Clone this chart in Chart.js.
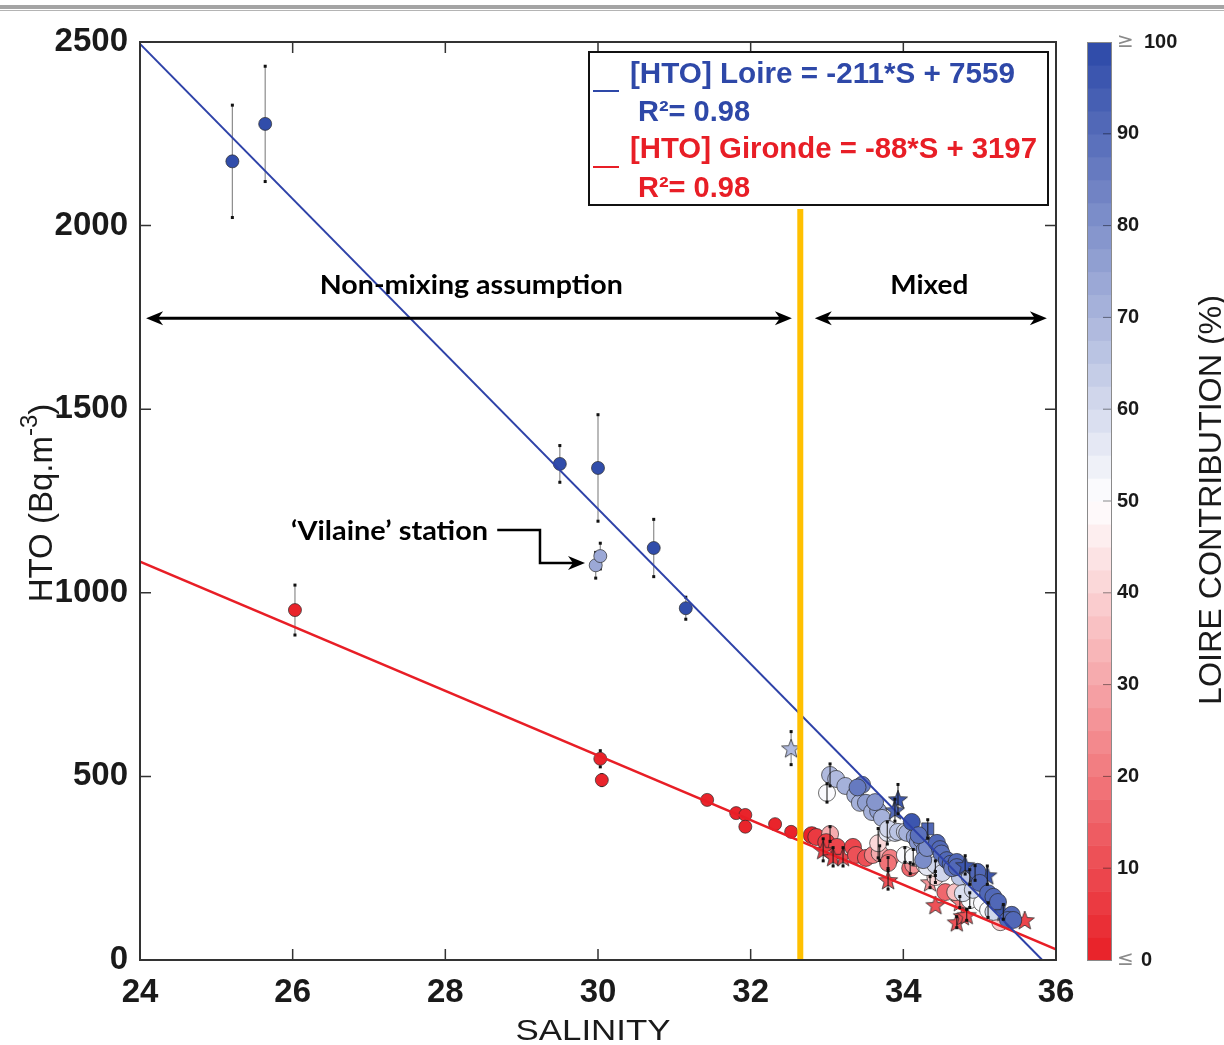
<!DOCTYPE html>
<html>
<head>
<meta charset="utf-8">
<script src="https://cdn.jsdelivr.net/npm/chart.js@4.4.1/dist/chart.umd.min.js"></script>
<style>
  html, body { margin: 0; padding: 0; background: #fff; }
  #wrap { position: relative; width: 1224px; height: 1045px; }
  #c { position: absolute; left: 0; top: 0; }
  .rule1 { position: absolute; left: 0; top: 5px; width: 1224px; height: 4px; background: #a4a4a4; }
  .rule2 { position: absolute; left: 0; top: 10px; width: 1224px; height: 1px; background: #b4b4b4; }
</style>
</head>
<body>
<div id="wrap">
  <canvas id="c" width="1224" height="1045"></canvas>
  <div class="rule1"></div><div class="rule2"></div>
</div>
<script>
  // HTO vs salinity, coloured by Loire contribution (%)
  const salinity = [
    25.21, 25.64, 29.50, 30.00, 29.97, 30.03, 30.73, 31.15, 26.03, 30.03,
    30.05, 31.43, 31.81, 31.93, 31.93, 32.32, 32.53, 32.53,
    32.80, 32.86, 33.04, 32.99, 33.13, 32.95, 33.08, 33.21, 33.34, 33.38,
    33.51, 33.60, 33.69, 33.67, 33.83, 33.80, 33.80, 34.09, 34.13, 34.15,
    34.35, 34.55, 34.42, 34.74, 34.70, 34.78, 34.83, 35.27, 35.59, 34.68, 34.42,
    33.00, 34.02, 34.13, 34.28, 34.42, 34.87, 35.03, 35.11, 34.31, 33.79,
    33.89, 33.04, 33.12, 33.24, 33.37, 33.43, 33.51, 33.59, 33.67, 33.72,
    33.80, 33.93, 34.02, 34.05, 34.15, 34.19, 34.24, 34.42, 34.51, 34.74,
    34.87, 34.78, 34.91, 35.18, 33.63,
    33.46, 33.93, 33.89, 34.11, 34.32, 34.28, 34.26, 34.31, 34.44, 34.48,
    34.50, 34.57, 34.62, 34.64, 34.70, 34.70, 34.81, 34.94, 35.10, 34.97,
    35.00, 35.11, 35.18, 35.24, 35.31, 35.42, 35.37, 35.44, 34.20, 33.40
  ];
  const hto = [
    2175, 2277, 1351, 1340, 1075, 1100, 1122, 958, 953, 548,
    490, 436, 400, 395, 363, 370, 349, 577,
    340, 335, 343, 321, 308, 300, 281, 281, 308, 286,
    278, 286, 291, 318, 278, 264, 218, 250, 259, 278,
    212, 185, 150, 158, 103, 120, 123, 103, 109, 185, 226,
    455, 286, 281, 259, 250, 163, 155, 136, 253, 346,
    346, 504, 493, 474, 449, 428, 428, 403, 406, 387,
    357, 349, 349, 346, 335, 321, 327, 259, 237, 226,
    226, 182, 191, 131, 430,
    477, 438, 408, 376, 357, 300, 272, 305, 319, 302,
    290, 272, 262, 250, 267, 253, 259, 237, 231, 240,
    210, 182, 172, 158, 131, 123, 109, 109, 340, 470
  ];
  const loireContribution = [
    100, 100, 100, 100, 74, 74, 100, 100, 0, 0,
    0, 0, 0, 0, 0, 0, 0, 68,
    2, 5, 30, 5, 8, 5, 5, 8, 8, 10,
    12, 20, 30, 40, 22, 18, 10, 15, 25, 38,
    25, 15, 10, 20, 10, 12, 12, 38, 8, 35, 40,
    50, 50, 50, 48, 45, 50, 52, 52, 55, 55,
    62, 68, 68, 70, 72, 72, 75, 72, 75, 70,
    60, 65, 62, 70, 75, 78, 78, 60, 62, 65,
    65, 58, 62, 60, 78,
    85, 95, 90, 95, 90, 80, 82, 80, 92, 90,
    88, 92, 90, 85, 92, 90, 95, 95, 95, 92,
    92, 90, 90, 92, 95, 92, 92, 92, 88, 85
  ];
  const sampleKind = [
    "circle", "circle", "circle", "circle", "circle", "circle", "circle", "circle", "circle", "circle",
    "circle", "circle", "circle", "circle", "circle", "circle", "circle", "star",
    "circle", "circle", "circle", "circle", "circle", "star", "star", "star", "circle", "circle",
    "circle", "circle", "circle", "circle", "circle", "circle", "star", "circle", "circle", "circle",
    "star", "circle", "star", "star", "star", "star", "star", "circle", "star", "circle", "circle",
    "circle", "circle", "circle", "circle", "circle", "circle", "circle", "circle", "circle", "circle",
    "circle", "circle", "circle", "circle", "circle", "circle", "circle", "circle", "circle", "circle",
    "circle", "circle", "circle", "circle", "circle", "circle", "circle", "circle", "circle", "circle",
    "circle", "circle", "circle", "circle", "circle",
    "circle", "star", "star", "circle", "square", "circle", "circle", "circle", "circle", "circle",
    "circle", "circle", "circle", "circle", "circle", "circle", "star", "star", "star", "circle",
    "circle", "circle", "circle", "circle", "star", "circle", "circle", "circle", "circle", "circle"
  ];
  const htoError = [
    153, 157, 50, 145, 35, 35, 78, 30, 68, 22,
    15, 10, 0, 8, 12, 0, 0, 45,
    0, 0, 20, 0, 0, 30, 25, 25, 0, 0,
    0, 0, 20, 40, 0, 15, 25, 15, 0, 0,
    15, 0, 0, 15, 15, 0, 15, 0, 0, 0, 15,
    25, 20, 20, 0, 20, 20, 0, 20, 0, 30,
    0, 30, 0, 0, 0, 0, 0, 0, 0, 0,
    0, 0, 0, 0, 0, 0, 0, 0, 0, 0,
    20, 0, 0, 0, 0,
    0, 40, 30, 0, 25, 0, 0, 0, 0, 0,
    0, 0, 0, 0, 0, 0, 25, 20, 25, 0,
    0, 0, 0, 0, 20, 0, 0, 0, 0, 0
  ];

  // regression lines (end points) and the mixing limit
  const loireFitS = [24, 35.82];
  const loireFitHTO = [2495, 0];
  const girondeFitS = [24, 36];
  const girondeFitHTO = [1085, 29];
  const mixingLimitS = [32.65, 32.65];
  const mixingLimitHTO = [0, 2045];

  const xTicks = [24, 26, 28, 30, 32, 34, 36];
  const yTicks = [0, 500, 1000, 1500, 2000, 2500];
  const cbTicks = [0, 10, 20, 30, 40, 50, 60, 70, 80, 90, 100];
  const legendLines = ["[HTO] Loire = -211*S + 7559", "R\u00b2= 0.98", "[HTO] Gironde = -88*S + 3197", "R\u00b2= 0.98"];

  const RED = [232, 30, 38];
  const BLUE = [44, 72, 168];
  const LEVELS = 40;

  function cmap(c) {
    const v = Math.max(0, Math.min(100, c));
    const lvl = Math.min(LEVELS - 1, Math.floor(v / (100 / LEVELS)));
    const val = (lvl + 0.5) * (100 / LEVELS);
    let rgb;
    if (val < 50) {
      const t = (50 - val) / 50;
      rgb = RED.map((k) => Math.round(255 - t * (255 - k)));
    } else {
      const t = (val - 50) / 50;
      rgb = BLUE.map((k) => Math.round(255 - t * (255 - k)));
    }
    return `rgb(${rgb[0]},${rgb[1]},${rgb[2]})`;
  }

  function starCanvas(fill) {
    const size = 24, r = 10, ri = 4.2;
    const cv = document.createElement("canvas");
    cv.width = size; cv.height = size;
    const g = cv.getContext("2d");
    g.translate(size / 2, size / 2 + 1);
    g.beginPath();
    for (let k = 0; k < 10; k++) {
      const rad = k % 2 ? ri : r;
      const a = -Math.PI / 2 + (k * Math.PI) / 5;
      g.lineTo(rad * Math.cos(a), rad * Math.sin(a));
    }
    g.closePath();
    g.fillStyle = fill;
    g.fill();
    g.lineWidth = 0.8;
    g.strokeStyle = "#2b2b2b";
    g.stroke();
    return cv;
  }

  const pointColors = loireContribution.map(cmap);
  const pointStyles = sampleKind.map((k, i) =>
    k === "star" ? starCanvas(pointColors[i]) : k === "square" ? "rect" : "circle"
  );

  function drawErrors(chart, mixed) {
    const { ctx, scales: { x, y } } = chart;
    ctx.save();
    salinity.forEach((s, i) => {
      const e = htoError[i];
      if (!e || (s >= 32.6) !== mixed) return;
      const px = x.getPixelForValue(s);
      const t = y.getPixelForValue(hto[i] + e);
      const b = y.getPixelForValue(hto[i] - e);
      ctx.strokeStyle = mixed ? "rgba(25,25,25,0.85)" : "#8c8c8c";
      ctx.lineWidth = 1.2;
      ctx.beginPath();
      ctx.moveTo(px, t);
      ctx.lineTo(px, b);
      ctx.stroke();
      ctx.fillStyle = "#111";
      ctx.fillRect(px - 1.5, t - 1.5, 3, 3);
      ctx.fillRect(px - 1.5, b - 1.5, 3, 3);
    });
    ctx.restore();
  }

  function fitText(ctx, text, x, y, width, align) {
    const w = ctx.measureText(text).width;
    ctx.save();
    ctx.translate(x, y);
    ctx.scale(width / w, 1);
    ctx.textAlign = align || "left";
    ctx.fillText(text, 0, 0);
    ctx.restore();
  }

  function arrowHead(ctx, x, y, dir) {
    // dir: 1 = pointing right, -1 = pointing left
    ctx.beginPath();
    ctx.moveTo(x, y);
    ctx.lineTo(x - dir * 17, y - 7);
    ctx.lineTo(x - dir * 12, y);
    ctx.lineTo(x - dir * 17, y + 7);
    ctx.closePath();
    ctx.fill();
  }

  function doubleArrow(ctx, x0, x1, y) {
    ctx.beginPath();
    ctx.moveTo(x0 + 10, y);
    ctx.lineTo(x1 - 10, y);
    ctx.stroke();
    arrowHead(ctx, x0, y, -1);
    arrowHead(ctx, x1, y, 1);
  }

  const decorations = {
    id: "decorations",
    beforeDatasetsDraw(chart) {
      drawErrors(chart, false);
    },
    afterDatasetsDraw(chart) {
      drawErrors(chart, true);
    },
    afterDraw(chart) {
      const { ctx, chartArea: a, scales: { x, y } } = chart;
      ctx.save();

      // frame + inward ticks
      ctx.strokeStyle = "#333";
      ctx.lineWidth = 2;
      ctx.strokeRect(a.left, a.top, a.right - a.left, a.bottom - a.top);
      ctx.lineWidth = 1.5;
      ctx.beginPath();
      xTicks.forEach((v) => {
        const px = x.getPixelForValue(v);
        ctx.moveTo(px, a.bottom); ctx.lineTo(px, a.bottom - 11);
        ctx.moveTo(px, a.top); ctx.lineTo(px, a.top + 11);
      });
      yTicks.forEach((v) => {
        const py = y.getPixelForValue(v);
        ctx.moveTo(a.left, py); ctx.lineTo(a.left + 11, py);
        ctx.moveTo(a.right, py); ctx.lineTo(a.right - 11, py);
      });
      ctx.stroke();

      // colorbar
      const cx0 = 1087, cx1 = 1111, cy0 = a.top, cy1 = a.bottom;
      const band = (cy1 - cy0) / LEVELS;
      for (let k = 0; k < LEVELS; k++) {
        ctx.fillStyle = cmap((k + 0.5) * (100 / LEVELS));
        ctx.fillRect(cx0, cy1 - (k + 1) * band, cx1 - cx0, band + 0.6);
      }
      ctx.strokeStyle = "#8a8a8a";
      ctx.lineWidth = 1;
      ctx.strokeRect(cx0 + 0.5, cy0 + 0.5, cx1 - cx0, cy1 - cy0);
      ctx.strokeStyle = "rgba(0,0,0,0.45)";
      ctx.beginPath();
      cbTicks.forEach((v) => {
        if (v === 0 || v === 100) return;
        const py = cy1 - (v / 100) * (cy1 - cy0);
        ctx.moveTo(cx1 - 8, py); ctx.lineTo(cx1, py);
      });
      ctx.stroke();
      ctx.textBaseline = "middle";
      ctx.textAlign = "left";
      cbTicks.forEach((v) => {
        const py = cy1 - (v / 100) * (cy1 - cy0);
        if (v === 0 || v === 100) {
          ctx.font = "20px 'DejaVu Sans'";
          ctx.fillStyle = "#8a8a8a";
          ctx.fillText(v === 0 ? "\u2264" : "\u2265", 1117, py);
          ctx.font = "bold 20px 'Liberation Sans'";
          ctx.fillStyle = "#1a1a1a";
          ctx.fillText(String(v), v === 0 ? 1141 : 1144, py);
        } else {
          ctx.font = "bold 20px 'Liberation Sans'";
          ctx.fillStyle = "#1a1a1a";
          ctx.fillText(String(v), 1117, py);
        }
      });

      // axis titles
      ctx.fillStyle = "#1a1a1a";
      ctx.textBaseline = "alphabetic";
      ctx.font = "30px 'Liberation Sans'";
      fitText(ctx, "SALINITY", 593, 1040, 155, "center");

      ctx.save();
      ctx.translate(1221, 500);
      ctx.rotate(-Math.PI / 2);
      ctx.font = "31px 'Liberation Sans'";
      fitText(ctx, "LOIRE CONTRIBUTION (%)", 0, 0, 410, "center");
      ctx.restore();

      ctx.save();
      ctx.translate(52, 503);
      ctx.rotate(-Math.PI / 2);
      const main = "HTO (Bq.m", sup = "-3", close = ")";
      ctx.font = "33px 'Liberation Sans'";
      const wMain = ctx.measureText(main).width;
      const wClose = ctx.measureText(close).width;
      ctx.font = "24px 'Liberation Sans'";
      const wSup = ctx.measureText(sup).width;
      const sx = -(wMain + wSup + wClose) / 2;
      ctx.font = "33px 'Liberation Sans'";
      ctx.textAlign = "left";
      ctx.fillText(main, sx, 0);
      ctx.font = "24px 'Liberation Sans'";
      ctx.fillText(sup, sx + wMain, -15);
      ctx.font = "33px 'Liberation Sans'";
      ctx.fillText(close, sx + wMain + wSup, 0);
      ctx.restore();

      // mixing-zone annotations
      ctx.fillStyle = "#000";
      ctx.strokeStyle = "#000";
      ctx.lineWidth = 3;
      const ay = y.getPixelForValue(1748);
      doubleArrow(ctx, x.getPixelForValue(24.08), x.getPixelForValue(32.54), ay);
      doubleArrow(ctx, x.getPixelForValue(32.84), x.getPixelForValue(35.88), ay);
      ctx.font = "bold 27px Lato";
      const ty = y.getPixelForValue(1814);
      fitText(ctx, "Non-mixing assumption", x.getPixelForValue(28.34), ty, 303, "center");
      fitText(ctx, "Mixed", x.getPixelForValue(34.34), ty, 78, "center");

      // Vilaine callout
      fitText(ctx, "\u2018Vilaine\u2019 station", x.getPixelForValue(28.56), y.getPixelForValue(1144), 197, "right");
      const v0 = x.getPixelForValue(28.68), v1 = x.getPixelForValue(29.24), v2 = x.getPixelForValue(29.83);
      const vy0 = y.getPixelForValue(1171), vy1 = y.getPixelForValue(1081);
      ctx.lineWidth = 2.5;
      ctx.beginPath();
      ctx.moveTo(v0, vy0); ctx.lineTo(v1, vy0); ctx.lineTo(v1, vy1); ctx.lineTo(v2 - 10, vy1);
      ctx.stroke();
      arrowHead(ctx, v2, vy1, 1);

      // legend box
      ctx.fillStyle = "#fff";
      ctx.fillRect(589, 52, 459, 153);
      ctx.strokeStyle = "#111";
      ctx.lineWidth = 2;
      ctx.strokeRect(589, 52, 459, 153);
      const blueTxt = "rgb(46,72,168)", redTxt = "rgb(232,30,38)";
      ctx.lineWidth = 2;
      ctx.strokeStyle = blueTxt;
      ctx.beginPath(); ctx.moveTo(593, 91); ctx.lineTo(619, 91); ctx.stroke();
      ctx.strokeStyle = redTxt;
      ctx.beginPath(); ctx.moveTo(593, 167); ctx.lineTo(619, 167); ctx.stroke();
      ctx.font = "bold 29px 'Liberation Sans'";
      ctx.fillStyle = blueTxt;
      fitText(ctx, legendLines[0], 630, 83, 385, "left");
      fitText(ctx, legendLines[1], 638, 121, 112, "left");
      ctx.fillStyle = redTxt;
      fitText(ctx, legendLines[2], 630, 158, 407, "left");
      fitText(ctx, legendLines[3], 638, 197, 112, "left");

      ctx.restore();
    }
  };

  const tickFont = { family: "'Liberation Sans', Arial, sans-serif", size: 33, weight: "bold" };

  new Chart(document.getElementById("c"), {
    type: "scatter",
    data: {
      datasets: [
        {
          data: mixingLimitS.map((s, i) => ({ x: s, y: mixingLimitHTO[i] })),
          showLine: true, borderColor: "#FFC000", borderWidth: 6, pointRadius: 0
        },
        {
          data: loireFitS.map((s, i) => ({ x: s, y: loireFitHTO[i] })),
          showLine: true, borderColor: "rgb(46,66,168)", borderWidth: 2, pointRadius: 0
        },
        {
          data: girondeFitS.map((s, i) => ({ x: s, y: girondeFitHTO[i] })),
          showLine: true, borderColor: "rgb(232,30,38)", borderWidth: 2.5, pointRadius: 0
        },
        {
          data: salinity.map((s, i) => ({ x: s, y: hto[i] })),
          showLine: false,
          pointStyle: pointStyles,
          pointBackgroundColor: pointColors,
          pointBorderColor: "#2b2b2b",
          pointBorderWidth: 0.7,
          pointRadius: salinity.map((s) => (s < 32.6 ? 6.5 : 8.5))
        }
      ]
    },
    options: {
      responsive: false,
      animation: false,
      events: [],
      layout: { padding: { top: 42, right: 168, left: 0, bottom: 0 } },
      plugins: { legend: { display: false }, tooltip: { enabled: false } },
      scales: {
        x: {
          type: "linear", min: 24, max: 36,
          afterFit(s) { s.height = 85; },
          afterBuildTicks(s) { s.ticks = xTicks.map((v) => ({ value: v })); },
          grid: { display: false, drawTicks: false },
          border: { display: true, color: "#333", width: 2 },
          ticks: { font: tickFont, color: "#1a1a1a", padding: 13, maxRotation: 0, autoSkip: false,
                   callback: (v) => String(v) }
        },
        y: {
          type: "linear", min: 0, max: 2500,
          afterFit(s) { s.width = 140; },
          afterBuildTicks(s) { s.ticks = yTicks.map((v) => ({ value: v })); },
          grid: { display: false, drawTicks: false },
          border: { display: true, color: "#333", width: 2 },
          ticks: { font: tickFont, color: "#1a1a1a", padding: 12, autoSkip: false,
                   callback: (v) => String(v) }
        }
      }
    },
    plugins: [decorations]
  });
</script>
</body>
</html>
